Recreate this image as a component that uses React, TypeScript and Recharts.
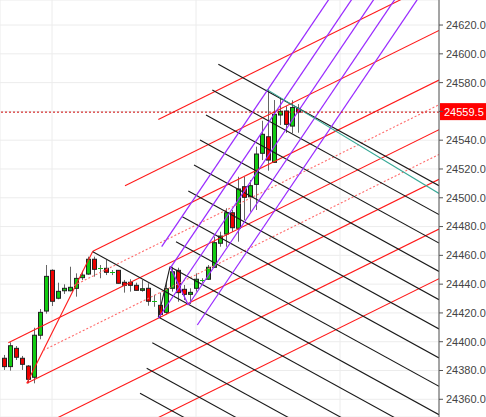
import React from "react";
import {
  ComposedChart,
  Bar,
  XAxis,
  YAxis,
  CartesianGrid,
  ReferenceLine,
} from "recharts";

// candles (index 0..49)
const opens = [
  24388.5, 24382.7, 24395.4, 24388.5, 24383.1, 24375.3, 24404.5, 24421.3, 24449.6, 24430.2,
  24435.4, 24435.4, 24437.1, 24444.5, 24447.0, 24457.3, 24450.8, 24451.0, 24448.0, 24449.6,
  24441.3, 24441.3, 24439.2, 24435.7, 24437.1, 24428.0, 24425.3, 24420.4, 24437.1, 24449.6,
  24436.4, 24432.9, 24437.1, 24442.7, 24443.4, 24451.7, 24468.4, 24474.8, 24489.6, 24478.8,
  24507.7, 24500.7, 24509.3, 24530.9, 24542.4, 24524.6, 24557.5, 24560.3, 24549.8, 24562.1,
];
const highs = [
  24390.8, 24399.6, 24397.0, 24390.1, 24383.8, 24409.7, 24422.7, 24453.3, 24450.3, 24441.0,
  24439.9, 24452.1, 24447.5, 24449.3, 24459.1, 24459.1, 24453.3, 24456.8, 24449.8, 24449.8,
  24442.9, 24443.4, 24441.0, 24442.9, 24440.6, 24432.5, 24434.1, 24441.7, 24452.1, 24451.4,
  24439.4, 24437.1, 24447.5, 24444.1, 24453.3, 24473.0, 24476.4, 24492.7, 24491.5, 24514.6,
  24514.6, 24512.3, 24535.5, 24553.5, 24575.3, 24567.9, 24569.1, 24563.7, 24567.7, 24565.1,
];
const lows = [
  24380.4, 24379.9, 24387.3, 24380.4, 24371.1, 24371.1, 24401.7, 24419.5, 24424.8, 24429.5,
  24433.2, 24435.0, 24431.3, 24442.9, 24446.5, 24445.2, 24444.1, 24446.3, 24446.3, 24440.4,
  24434.1, 24434.8, 24435.5, 24434.8, 24425.0, 24424.3, 24416.3, 24419.0, 24434.8, 24427.8,
  24429.0, 24426.2, 24434.8, 24441.0, 24442.9, 24451.5, 24466.0, 24466.0, 24476.4, 24469.5,
  24484.5, 24490.3, 24491.5, 24526.2, 24518.8, 24524.4, 24550.5, 24545.0, 24544.8, 24545.2,
];
const closes = [
  24382.7, 24397.2, 24389.2, 24384.3, 24373.9, 24404.5, 24420.4, 24445.4, 24428.1, 24435.0,
  24437.1, 24437.8, 24444.0, 24446.3, 24457.3, 24450.3, 24451.0, 24448.2, 24448.3, 24440.6,
  24439.2, 24439.2, 24435.7, 24436.8, 24428.1, 24428.2, 24419.0, 24436.8, 24448.6, 24434.1,
  24432.9, 24434.3, 24443.4, 24442.9, 24451.7, 24468.8, 24473.4, 24489.6, 24479.2, 24506.1,
  24500.3, 24508.4, 24530.4, 24544.1, 24526.2, 24558.0, 24560.1, 24551.0, 24562.7, 24559.5,
];

const yTicks = [
  24360, 24380, 24400, 24420, 24440, 24460, 24480, 24500, 24520, 24540, 24560, 24580, 24600, 24620,
];
const xGridTicks = [8, 32, 56];
const lastPrice = 24559.5;

// drawn lines: [x1, y1, x2, y2] in (bar index, price)
const redSolid = [
  [3.8, 24371.1, 14.8, 24462.8],
  [4, 24302.5, 72.5, 24443.8],
  [4, 24337.0, 72.5, 24478.3],
  [3.8, 24371.1, 72.5, 24512.8],
  [0.72, 24399.3, 72.5, 24547.3],
  [14.8, 24462.8, 72.5, 24581.8],
  [20.17, 24508.4, 72.5, 24616.3],
  [25.72, 24554.3, 72.5, 24650.8],
];
const redDotted = [
  [6.55, 24394.0, 72.5, 24530.1],
  [11.67, 24439.1, 72.5, 24564.6],
];
const blackLines = [
  [14.8, 24462.5, 72.5, 24330.3],
  [25.72, 24417.2, 27.67, 24452.1],
  [35.72, 24592.7, 72.5, 24508.4],
  [34.72, 24574.9, 72.5, 24488.3],
  [33.67, 24557.5, 72.5, 24468.5],
  [32.67, 24540.1, 72.5, 24448.8],
  [31.67, 24522.8, 72.5, 24429.2],
  [30.72, 24504.7, 72.5, 24408.9],
  [29.72, 24486.8, 72.5, 24388.7],
  [28.67, 24469.5, 72.5, 24369.0],
  [27.67, 24452.1, 72.5, 24349.3],
  [25.72, 24417.2, 72.5, 24310.0],
  [24.72, 24399.3, 72.5, 24289.8],
  [23.78, 24381.5, 72.5, 24269.8],
  [22.67, 24364.2, 72.5, 24250.0],
];
const purpleLines = [
  [27.67, 24452.1, 30.72, 24425.5],
  [26.28, 24466.0, 72.5, 24751.1],
  [27.67, 24451.0, 72.5, 24727.5],
  [25.72, 24416.3, 72.5, 24704.8],
  [30.72, 24425.5, 72.5, 24683.2],
  [32.22, 24411.6, 72.5, 24660.0],
];
const tealLines = [[43.78, 24575.3, 72.5, 24503.0]];

const data = opens.map((o, i) => ({
  idx: i,
  open: o,
  high: highs[i],
  low: lows[i],
  close: closes[i],
  range: [lows[i], highs[i]],
}));

const Candle = (props: any) => {
  const { x, y, width, height, payload } = props;
  const { open, close, high, low } = payload;
  const cx = Math.round(x + width / 2) + 0.5;
  const k = height / (high - low);
  const py = (v: number) => y + (high - v) * k;
  const up = close >= open;
  const top = py(Math.max(open, close));
  const bot = py(Math.min(open, close));
  return (
    <g>
      <line x1={cx} x2={cx} y1={y} y2={y + height} stroke="#666" />
      {bot - top < 1.5 ? (
        <line x1={cx - 2.5} x2={cx + 2.5} y1={Math.round(top) + 0.5} y2={Math.round(top) + 0.5} stroke="#11bb11" />
      ) : (
        <rect
          x={cx - 2}
          y={top}
          width={4}
          height={bot - top}
          fill={up ? "#11cc11" : "#ee0000"}
          stroke="#222"
        />
      )}
    </g>
  );
};

const PriceTag = (props: any) => {
  const { viewBox } = props;
  const x = viewBox.x + viewBox.width + 1;
  const y = viewBox.y;
  return (
    <g>
      <rect x={x} y={y - 9} width={48} height={17} fill="#ff0000" />
      <text x={x + 4} y={y + 4} fill="#fff" fontSize={11}>
        {lastPrice.toFixed(1)}
      </text>
    </g>
  );
};

const seg = (
  l: number[],
  color: string,
  key: string,
  dash?: string,
  w = 1
) => (
  <ReferenceLine
    key={key}
    segment={[
      { x: l[0], y: l[1] },
      { x: l[2], y: l[3] },
    ]}
    stroke={color}
    strokeWidth={w}
    strokeDasharray={dash}
    ifOverflow="hidden"
  />
);

export default function App() {
  return (
    <div style={{ fontFamily: "'Liberation Sans', Arial, sans-serif" }}>
      <style>{`body{margin:0}`}</style>
      <ComposedChart
        width={486}
        height={417}
        data={data}
        margin={{ top: 0, right: 0, bottom: 0, left: 0 }}
      >
        <CartesianGrid stroke="#ececec" />
        <XAxis
          type="number"
          dataKey="idx"
          domain={[-0.667, 72.5]}
          ticks={xGridTicks}
          allowDataOverflow
          hide
        />
        <YAxis
          orientation="right"
          domain={[24347.7, 24637.4]}
          ticks={yTicks}
          allowDataOverflow
          width={47}
          tickSize={4}
          tickMargin={3}
          tickFormatter={(v) =>
            Math.abs(v - lastPrice) < 5 ? "" : Number(v).toFixed(1)
          }
          tick={{ fill: "#444", fontSize: 11 }}
          axisLine={{ stroke: "#555" }}
          tickLine={{ stroke: "#555" }}
        />
        {redSolid.map((l, i) => seg(l, "#ff1a1a", `r${i}`, undefined, 1.1))}
        {redDotted.map((l, i) => seg(l, "#ff6b6b", `rd${i}`, "2 2", 1.1))}
        {blackLines.map((l, i) => seg(l, "#1a1a1a", `b${i}`, undefined, 1.1))}
        {purpleLines.map((l, i) => seg(l, "#9a2cff", `p${i}`, undefined, 1.25))}
        {tealLines.map((l, i) => seg(l, "#36a896", `t${i}`, undefined, 1.1))}
        <ReferenceLine
          y={lastPrice}
          stroke="#cc0000"
          strokeDasharray="2 2"
          label={<PriceTag />}
        />
        <Bar
          dataKey="range"
          barSize={5}
          shape={<Candle />}
          isAnimationActive={false}
        />
      </ComposedChart>
    </div>
  );
}
